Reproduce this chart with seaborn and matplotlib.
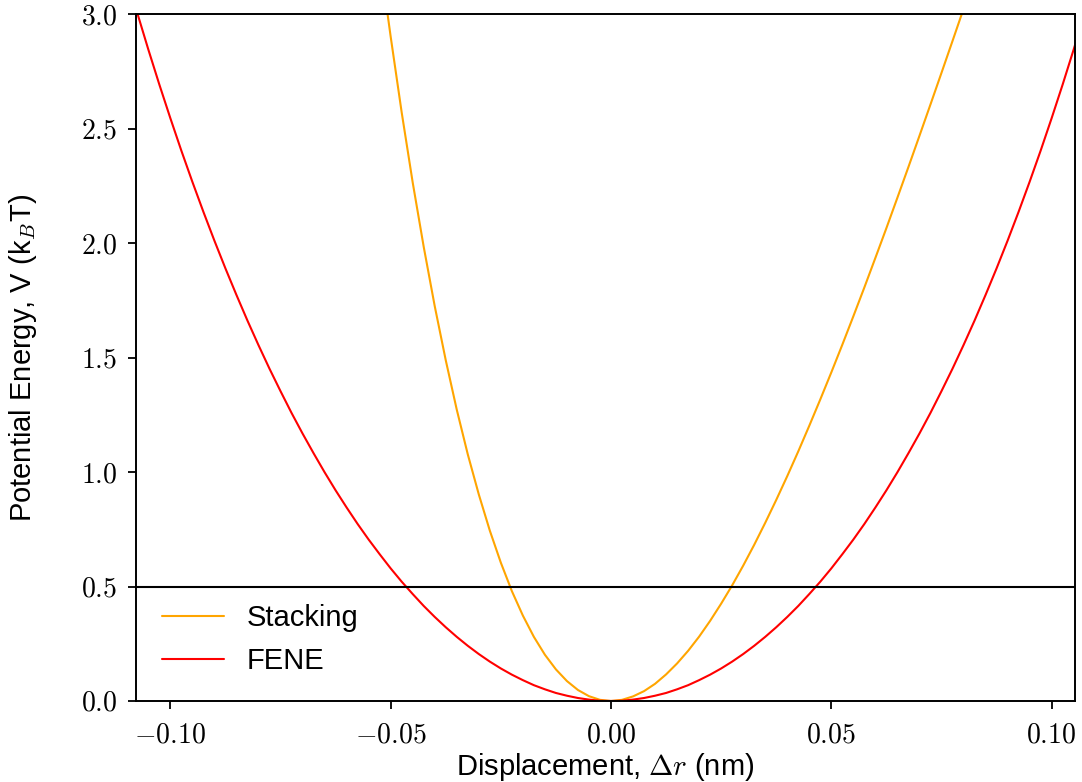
import matplotlib
matplotlib.use('Agg')
import matplotlib.pyplot as plt
import seaborn as sns
import pandas as pd

# values: displacement (nm) vs energy (kBT)
fene_dr = [-0.1075, -0.1050, -0.1025, -0.1000, -0.0975, -0.0950, -0.0925, -0.0900,
           -0.0875, -0.0850, -0.0825, -0.0800, -0.0775, -0.0750, -0.0725, -0.0700,
           -0.0675, -0.0650, -0.0625, -0.0600, -0.0575, -0.0550, -0.0525, -0.0500,
           -0.0475, -0.0450, -0.0425, -0.0400, -0.0375, -0.0350, -0.0325, -0.0300,
           -0.0275, -0.0250, -0.0225, -0.0200, -0.0175, -0.0150, -0.0125, -0.0100,
           -0.0075, -0.0050, -0.0025, 0.0000, 0.0025, 0.0050, 0.0075, 0.0100,
           0.0125, 0.0150, 0.0175, 0.0200, 0.0225, 0.0250, 0.0275, 0.0300,
           0.0325, 0.0350, 0.0375, 0.0400, 0.0425, 0.0450, 0.0475, 0.0500,
           0.0525, 0.0550, 0.0575, 0.0600, 0.0625, 0.0650, 0.0675, 0.0700,
           0.0725, 0.0750, 0.0775, 0.0800, 0.0825, 0.0850, 0.0875, 0.0900,
           0.0925, 0.0950, 0.0975, 0.1000, 0.1025, 0.1050, 0.1060]
fene_v = [3.004, 2.845, 2.692, 2.545, 2.403, 2.267, 2.136, 2.010,
          1.889, 1.773, 1.661, 1.554, 1.451, 1.353, 1.258, 1.168,
          1.082, 0.999, 0.920, 0.845, 0.773, 0.705, 0.641, 0.579,
          0.521, 0.467, 0.415, 0.367, 0.322, 0.280, 0.241, 0.205,
          0.172, 0.142, 0.115, 0.091, 0.069, 0.051, 0.035, 0.023,
          0.013, 0.006, 0.001, 0.000, 0.001, 0.006, 0.013, 0.023,
          0.035, 0.051, 0.069, 0.091, 0.115, 0.142, 0.172, 0.205,
          0.241, 0.280, 0.322, 0.367, 0.415, 0.467, 0.521, 0.579,
          0.641, 0.705, 0.773, 0.845, 0.920, 0.999, 1.082, 1.168,
          1.258, 1.353, 1.451, 1.554, 1.661, 1.773, 1.889, 2.010,
          2.136, 2.267, 2.403, 2.545, 2.692, 2.845, 2.908]

stack_dr = [-0.0510, -0.0500, -0.0475, -0.0450, -0.0425, -0.0400, -0.0375, -0.0350,
            -0.0325, -0.0300, -0.0275, -0.0250, -0.0225, -0.0200, -0.0175, -0.0150,
            -0.0125, -0.0100, -0.0075, -0.0050, -0.0025, 0.0000, 0.0025, 0.0050,
            0.0075, 0.0100, 0.0125, 0.0150, 0.0175, 0.0200, 0.0225, 0.0250,
            0.0275, 0.0300, 0.0325, 0.0350, 0.0375, 0.0400, 0.0425, 0.0450,
            0.0475, 0.0500, 0.0525, 0.0550, 0.0575, 0.0600, 0.0625, 0.0650,
            0.0675, 0.0700, 0.0725, 0.0750, 0.0775, 0.0800]
stack_v = [3.041, 2.901, 2.570, 2.264, 1.983, 1.724, 1.488, 1.272,
           1.077, 0.902, 0.744, 0.604, 0.480, 0.373, 0.280, 0.202,
           0.138, 0.087, 0.048, 0.021, 0.005, 0.000, 0.005, 0.020,
           0.043, 0.075, 0.116, 0.164, 0.219, 0.281, 0.350, 0.425,
           0.505, 0.591, 0.682, 0.778, 0.878, 0.982, 1.090, 1.202,
           1.317, 1.435, 1.556, 1.680, 1.806, 1.935, 2.065, 2.198,
           2.332, 2.468, 2.605, 2.743, 2.882, 3.022]

x_ticks = [-0.10, -0.05, 0.00, 0.05, 0.10]
x_labels = [r'$-0.10$', r'$-0.05$', r'$0.00$', r'$0.05$', r'$0.10$']
y_ticks = [0.0, 0.5, 1.0, 1.5, 2.0, 2.5, 3.0]
y_labels = [r'$0.0$', r'$0.5$', r'$1.0$', r'$1.5$', r'$2.0$', r'$2.5$', r'$3.0$']

df = pd.concat([
    pd.DataFrame({'dr': stack_dr, 'V': stack_v, 'potential': 'Stacking'}),
    pd.DataFrame({'dr': fene_dr, 'V': fene_v, 'potential': 'FENE'}),
])

sns.set_style('ticks')
plt.rcParams['font.family'] = ['Liberation Sans', 'DejaVu Sans']
plt.rcParams['mathtext.fontset'] = 'cm'
plt.rcParams['axes.edgecolor'] = 'black'
plt.rcParams['axes.labelcolor'] = 'black'
plt.rcParams['text.color'] = 'black'
plt.rcParams['xtick.color'] = 'black'
plt.rcParams['ytick.color'] = 'black'

fig, ax = plt.subplots(figsize=(10.82, 7.82), dpi=100)
fig.subplots_adjust(left=0.1257, right=0.9935, top=0.982, bottom=0.1036)

sns.lineplot(data=df, x='dr', y='V', hue='potential',
             palette={'Stacking': 'orange', 'FENE': 'red'},
             estimator=None, linewidth=1.5, ax=ax)
ax.axhline(0.5, color='black', linewidth=1.5)

ax.set_xlim(-0.1078, 0.1053)
ax.set_ylim(0, 3)
ax.set_xticks(x_ticks, x_labels)
ax.set_yticks(y_ticks, y_labels)
ax.tick_params(labelsize=20, length=5.5, width=1.3)
ax.tick_params(axis='x', pad=10)
ax.tick_params(axis='y', pad=8)
for s in ax.spines.values():
    s.set_linewidth(1.4)

ax.set_xlabel(r'Displacement, $\Delta r$ (nm)', fontsize=21, labelpad=2)
ax.set_ylabel(r'Potential Energy, V (k$_B$T)', fontsize=21, labelpad=30)

sns.move_legend(ax, 'lower left', frameon=False, fontsize=21, title=None,
                handlelength=2.1)

fig.savefig('out.png', dpi=100)
